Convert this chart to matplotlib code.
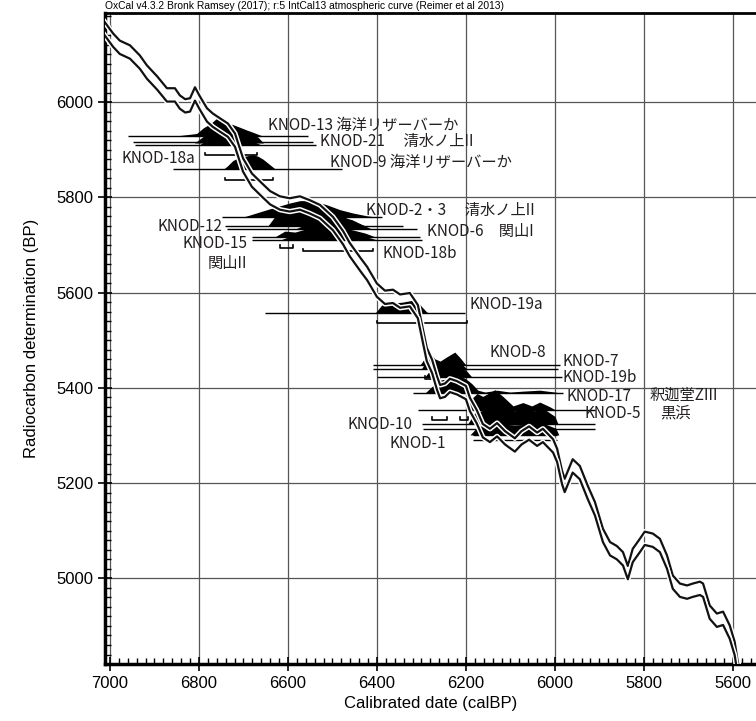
import numpy as np
import matplotlib.pyplot as plt
import matplotlib.patheffects as pe
from matplotlib.ticker import MultipleLocator

plt.rcParams['font.family'] = ['Liberation Sans', 'Noto Sans CJK JP']

# IntCal13 mean curve (cal BP -> 14C BP), band +/- curve_err
curve_cal = [7015, 6993, 6978, 6955, 6933, 6917, 6894, 6872, 6854, 6843, 6831, 6820, 6809, 6798,
             6782, 6769, 6753, 6735, 6719, 6701, 6681, 6658, 6640, 6618, 6596, 6573, 6551, 6528,
             6499, 6476, 6461, 6438, 6422, 6400, 6382, 6364, 6348, 6326, 6308, 6288, 6276, 6265,
             6258, 6247, 6236, 6220, 6200, 6191, 6176, 6162, 6146, 6130, 6112, 6090, 6075, 6058,
             6040, 6027, 6004, 5995, 5984, 5978, 5960, 5944, 5926, 5910, 5892, 5876, 5861, 5847,
             5836, 5825, 5809, 5798, 5780, 5764, 5748, 5735, 5719, 5703, 5690, 5674, 5667, 5652,
             5636, 5622, 5607, 5596, 5589, 5575]
curve_bp = [6158, 6130, 6115, 6105, 6084, 6063, 6040, 6015, 6015, 6000, 5992, 5994, 6017, 5998,
            5973, 5962, 5952, 5941, 5920, 5868, 5836, 5815, 5799, 5788, 5784, 5788, 5780, 5770,
            5745, 5715, 5690, 5660, 5640, 5605, 5590, 5592, 5582, 5585, 5560, 5470, 5445, 5410,
            5392, 5395, 5405, 5400, 5390, 5365, 5340, 5310, 5300, 5312, 5295, 5280, 5295, 5305,
            5292, 5300, 5278, 5258, 5212, 5195, 5236, 5222, 5180, 5146, 5090, 5062, 5054, 5041,
            5012, 5048, 5069, 5084, 5080, 5069, 5034, 4992, 4975, 4971, 4975, 4979, 4975, 4929,
            4912, 4916, 4887, 4853, 4811, 4760]
curve_err = 14

# calibrated distributions: baseline = measured 14C age, heights in BP units
sample_names = ['KNOD-13', 'KNOD-21', 'KNOD-18a', 'KNOD-9', 'KNOD-2・3', 'KNOD-12', 'KNOD-6',
                'KNOD-15', 'KNOD-18b', 'KNOD-19a', 'KNOD-8', 'KNOD-7', 'KNOD-19b', 'KNOD-17',
                'KNOD-5', 'KNOD-10', 'KNOD-1']
sample_bp = [5929, 5914, 5910, 5859, 5759, 5740, 5733, 5717, 5710, 5557, 5448, 5440, 5423,
             5389, 5354, 5324, 5301]
dist_cal = [
    [6850, 6805, 6790, 6775, 6760, 6745, 6725, 6708, 6692, 6680, 6658],
    [6810, 6790, 6775, 6753, 6730, 6708, 6685, 6667, 6655],
    [6800, 6785, 6765, 6745, 6725, 6705, 6680, 6660],
    [6745, 6737, 6724, 6708, 6692, 6679, 6667, 6656, 6640, 6628],
    [6700, 6692, 6640, 6618, 6596, 6573, 6544, 6512, 6483, 6454, 6422, 6404],
    [6645, 6629, 6607, 6584, 6562, 6528, 6494, 6472, 6449, 6427],
    [6584, 6551, 6517, 6483, 6456, 6434, 6411],
    [6629, 6607, 6584, 6562, 6528, 6494, 6461, 6427, 6404],
    [6618, 6596, 6562, 6528, 6483, 6449, 6416, 6398],
    [6404, 6389, 6378, 6360, 6342, 6319, 6308, 6299, 6288, 6281],
    [6303, 6292, 6281, 6270, 6258, 6243, 6225, 6213, 6202, 6196],
    [6300, 6290, 6280, 6268, 6255, 6240, 6225, 6212, 6198],
    [6292, 6276, 6258, 6236, 6213, 6198, 6187],
    [6292, 6276, 6258, 6236, 6218, 6202, 6187, 6173, 6157, 6130, 6101, 6072, 6034, 6000, 5984],
    [6200, 6191, 6175, 6162, 6146, 6135, 6117, 6094, 6072, 6052, 6034, 6011, 6000],
    [6196, 6180, 6157, 6135, 6112, 6090, 6067, 6045, 6022, 6000, 5993],
    [6191, 6173, 6146, 6124, 6090, 6056, 6022, 5998, 5991],
]
dist_h = [
    [0, 5, 17, 25, 37, 30, 24, 18, 12, 8, 0],
    [0, 14, 25, 30, 30, 27, 22, 12, 0],
    [0, 8, 14, 16, 14, 12, 8, 0],
    [0, 6, 18, 26, 28, 31, 27, 21, 9, 0],
    [0, 2, 17, 23, 29, 34, 34, 25, 15, 8, 2, 0],
    [0, 20, 24, 22, 24, 28, 25, 18, 8, 0],
    [0, 14, 22, 26, 20, 10, 0],
    [0, 12, 10, 16, 22, 22, 16, 8, 0],
    [0, 8, 12, 15, 15, 10, 5, 0],
    [0, 17, 23, 21, 23, 27, 23, 13, 2, 0],
    [0, 15, 27, 13, 8, 17, 27, 15, 2, 0],
    [0, 14, 24, 14, 10, 18, 25, 12, 0],
    [0, 20, 24, 20, 24, 12, 0],
    [0, 14, 27, 31, 36, 31, 20, 6, 2, 6, 2, 4, 6, 2, 0],
    [0, 20, 34, 28, 36, 42, 28, 8, 15, 8, 16, 6, 0],
    [0, 24, 30, 32, 30, 28, 30, 28, 30, 16, 0],
    [0, 18, 23, 23, 21, 23, 23, 14, 0],
]

# long horizontal lines (baselines / leaders)
line_bp = [5929, 5916, 5910, 5859, 5759, 5740, 5733, 5717, 5710, 5557, 5448, 5440, 5423,
           5389, 5354, 5324, 5314, 5301, 5291]
line_from = [6960, 6948, 6944, 6858, 6748, 6742, 6737, 6681, 6681, 6652, 6409, 6409, 6400,
             6319, 6308, 6299, 6297, 6184, 6184]
line_to = [6555, 6544, 6537, 6479, 6389, 6342, 6310, 6303, 6299, 6202, 5989, 5993, 5984,
           5982, 5910, 5910, 5910, 5996, 5996]

# 95% range brackets
bracket_bp = [5889, 5836, 5694, 5687, 5536, 5419, 5333, 5333]
bracket_from = [6787, 6742, 6618, 6566, 6400, 6292, 6276, 6213]
bracket_to = [6670, 6634, 6589, 6409, 6198, 6258, 6243, 6196]

label_text = ['KNOD-13 海洋リザーバーか', 'KNOD-21　 清水ノ上II', 'KNOD-18a', 'KNOD-9 海洋リザーバーか',
              'KNOD-2・3　 清水ノ上II', 'KNOD-12', 'KNOD-6　関山I', 'KNOD-15', '関山II', 'KNOD-18b',
              'KNOD-19a', 'KNOD-8', 'KNOD-7', 'KNOD-19b', 'KNOD-17', '釈迦堂ZIII', 'KNOD-5', '黒浜',
              'KNOD-10', 'KNOD-1']
label_x = [6645, 6528, 6809, 6506, 6425, 6748, 6287, 6692, 6692, 6387, 6191, 6146, 5982, 5982,
           5973, 5787, 5933, 5764, 6321, 6371]
label_y = [5952, 5918, 5882, 5874, 5773, 5738, 5729, 5702, 5662, 5683, 5574, 5475, 5456, 5421,
           5381, 5385, 5347, 5347, 5322, 5284]
label_ha = ['left', 'left', 'right', 'left', 'left', 'right', 'left', 'right', 'right', 'left',
            'left', 'left', 'left', 'left', 'left', 'left', 'left', 'left', 'right', 'left']

fig = plt.figure(figsize=(7.56, 7.21), dpi=100)
ax = fig.add_axes([0.139, 0.079, 0.861, 0.903])

for i in range(len(sample_names)):
    base = sample_bp[i]
    ax.fill_between(dist_cal[i], base, base + np.array(dist_h[i]), color='black', lw=0, zorder=3)

ax.hlines(line_bp, line_from, line_to, color='black', lw=1.0, zorder=3)
for b, x0, x1 in zip(bracket_bp, bracket_from, bracket_to):
    ax.plot([x0, x0, x1, x1], [b + 5, b, b, b + 5], color='black', lw=1.2, zorder=3)

# curve band edges, white edge so they show inside the black distributions
halo = [pe.Stroke(linewidth=3.8, foreground='white'), pe.Normal()]
cb = np.array(curve_bp)
ax.plot(curve_cal, cb + curve_err, color='#111111', lw=1.6, zorder=5, path_effects=halo)
ax.plot(curve_cal, cb - curve_err, color='#111111', lw=1.6, zorder=5, path_effects=halo)

for t, x, y, ha in zip(label_text, label_x, label_y, label_ha):
    ax.text(x, y, t, ha=ha, va='center', fontsize=11, color='#231f20',
            family=['Noto Sans CJK JP', 'DejaVu Sans'], zorder=6)

ax.set_xlim(7011, 5548)
ax.set_ylim(4820, 6187)
ax.xaxis.set_major_locator(MultipleLocator(200))
ax.xaxis.set_minor_locator(MultipleLocator(20))
ax.yaxis.set_major_locator(MultipleLocator(200))
ax.yaxis.set_minor_locator(MultipleLocator(20))
ax.grid(True, which='major', color='#555555', lw=0.9)
ax.set_axisbelow(True)
ax.tick_params(which='major', direction='inout', length=10, width=1.2, labelsize=12)
ax.tick_params(which='minor', direction='in', length=4, width=1)
ax.spines['right'].set_visible(False)
ax.spines['left'].set_linewidth(2.5)
ax.spines['bottom'].set_linewidth(2.5)
ax.spines['top'].set_linewidth(2)

ax.set_xlabel('Calibrated date (calBP)', fontsize=12, labelpad=4)
ax.set_ylabel('Radiocarbon determination (BP)', fontsize=12, labelpad=12)
ax.text(0, 1.003, 'OxCal v4.3.2 Bronk Ramsey (2017); r:5 IntCal13 atmospheric curve (Reimer et al 2013)',
        transform=ax.transAxes, fontsize=7.4, ha='left', va='bottom')

plt.savefig('out.png', dpi=100)
